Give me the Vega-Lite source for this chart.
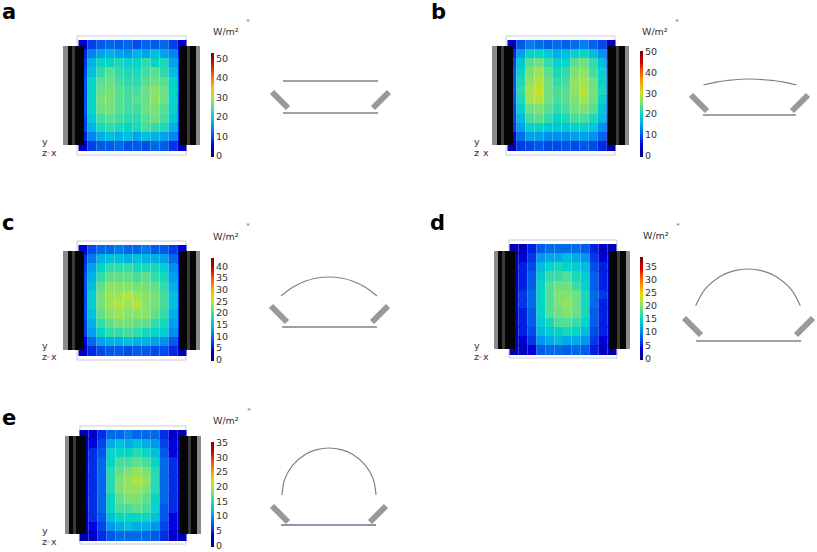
{"$schema":"https://vega.github.io/schema/vega-lite/v6.json","padding":0,"spacing":0,"background":"white","resolve":{"scale":{"color":"independent","fill":"independent"},"legend":{"color":"independent"}},
"config":{"view":{"stroke":null},"axis":{"disable":true},"concat":{"spacing":0},"range":{"heatmap":["#00007f","#0000e0","#0070e8","#10d0d0","#70e080","#e0e000","#ff7f00","#e00000","#7f0000"],"ramp":["#00007f","#0000e0","#0070e8","#10d0d0","#70e080","#e0e000","#ff7f00","#e00000","#7f0000"]},"text":{"font":"DejaVu Sans"},"legend":{"labelFont":"DejaVu Sans","labelFontSize":9.5,"labelColor":"#333","labelOffset":2,"gradientThickness":3,"gradientStrokeWidth":0,"labelOverlap":false,"tickCount":6}},
"datasets":{
"gear1":[{"p":"housing","x":63,"x2":68,"y":46,"y2":145},{"p":"core","x":68,"x2":84,"y":46,"y2":145},{"p":"rib","x":72,"x2":75,"y":46,"y2":145},{"p":"core","x":179,"x2":196,"y":46,"y2":145},{"p":"rib","x":187,"x2":190,"y":46,"y2":145},{"p":"housing","x":196,"x2":200,"y":46,"y2":145}],
"gear2":[{"p":"housing","x":65,"x2":69,"y":46,"y2":144},{"p":"core","x":69,"x2":86,"y":46,"y2":144},{"p":"rib","x":73,"x2":76,"y":46,"y2":144},{"p":"core","x":180,"x2":197,"y":46,"y2":144},{"p":"rib","x":188,"x2":191,"y":46,"y2":144},{"p":"housing","x":197,"x2":201,"y":46,"y2":144}],
"heatA":[{"x":83,"y":45,"v":5},{"x":92,"y":45,"v":9},{"x":101,"y":45,"v":11},{"x":110,"y":45,"v":12},{"x":119,"y":45,"v":11},{"x":128,"y":45,"v":12},{"x":137,"y":45,"v":10},{"x":146,"y":45,"v":12},{"x":155,"y":45,"v":11},{"x":164,"y":45,"v":12},{"x":173,"y":45,"v":9},{"x":182,"y":45,"v":5},
{"x":83,"y":54,"v":7},{"x":92,"y":54,"v":14},{"x":101,"y":54,"v":16},{"x":110,"y":54,"v":17},{"x":119,"y":54,"v":16},{"x":128,"y":54,"v":15},{"x":137,"y":54,"v":17},{"x":146,"y":54,"v":16},{"x":155,"y":54,"v":18},{"x":164,"y":54,"v":16},{"x":173,"y":54,"v":14},{"x":182,"y":54,"v":7},
{"x":83,"y":63,"v":8},{"x":92,"y":63,"v":17},{"x":101,"y":63,"v":21},{"x":110,"y":63,"v":21},{"x":119,"y":63,"v":22},{"x":128,"y":63,"v":20},{"x":137,"y":63,"v":21},{"x":146,"y":63,"v":23},{"x":155,"y":63,"v":21},{"x":164,"y":63,"v":22},{"x":173,"y":63,"v":16},{"x":182,"y":63,"v":9},
{"x":83,"y":72,"v":9},{"x":92,"y":72,"v":18},{"x":101,"y":72,"v":23},{"x":110,"y":72,"v":25},{"x":119,"y":72,"v":23},{"x":128,"y":72,"v":22},{"x":137,"y":72,"v":22},{"x":146,"y":72,"v":24},{"x":155,"y":72,"v":25},{"x":164,"y":72,"v":23},{"x":173,"y":72,"v":18},{"x":182,"y":72,"v":9},
{"x":83,"y":82,"v":10},{"x":92,"y":82,"v":20},{"x":101,"y":82,"v":25},{"x":110,"y":82,"v":26},{"x":119,"y":82,"v":24},{"x":128,"y":82,"v":23},{"x":137,"y":82,"v":23},{"x":146,"y":82,"v":25},{"x":155,"y":82,"v":26},{"x":164,"y":82,"v":25},{"x":173,"y":82,"v":20},{"x":182,"y":82,"v":10},
{"x":83,"y":91,"v":10},{"x":92,"y":91,"v":21},{"x":101,"y":91,"v":26},{"x":110,"y":91,"v":27},{"x":119,"y":91,"v":25},{"x":128,"y":91,"v":24},{"x":137,"y":91,"v":24},{"x":146,"y":91,"v":26},{"x":155,"y":91,"v":28},{"x":164,"y":91,"v":26},{"x":173,"y":91,"v":21},{"x":182,"y":91,"v":10},
{"x":83,"y":100,"v":10},{"x":92,"y":100,"v":21},{"x":101,"y":100,"v":27},{"x":110,"y":100,"v":27},{"x":119,"y":100,"v":25},{"x":128,"y":100,"v":24},{"x":137,"y":100,"v":25},{"x":146,"y":100,"v":26},{"x":155,"y":100,"v":28},{"x":164,"y":100,"v":26},{"x":173,"y":100,"v":20},{"x":182,"y":100,"v":9},
{"x":83,"y":109,"v":10},{"x":92,"y":109,"v":20},{"x":101,"y":109,"v":26},{"x":110,"y":109,"v":27},{"x":119,"y":109,"v":25},{"x":128,"y":109,"v":24},{"x":137,"y":109,"v":24},{"x":146,"y":109,"v":26},{"x":155,"y":109,"v":27},{"x":164,"y":109,"v":25},{"x":173,"y":109,"v":20},{"x":182,"y":109,"v":9},
{"x":83,"y":119,"v":9},{"x":92,"y":119,"v":19},{"x":101,"y":119,"v":24},{"x":110,"y":119,"v":25},{"x":119,"y":119,"v":24},{"x":128,"y":119,"v":23},{"x":137,"y":119,"v":23},{"x":146,"y":119,"v":25},{"x":155,"y":119,"v":26},{"x":164,"y":119,"v":24},{"x":173,"y":119,"v":19},{"x":182,"y":119,"v":9},
{"x":83,"y":128,"v":9},{"x":92,"y":128,"v":17},{"x":101,"y":128,"v":22},{"x":110,"y":128,"v":23},{"x":119,"y":128,"v":22},{"x":128,"y":128,"v":21},{"x":137,"y":128,"v":22},{"x":146,"y":128,"v":24},{"x":155,"y":128,"v":23},{"x":164,"y":128,"v":22},{"x":173,"y":128,"v":17},{"x":182,"y":128,"v":8},
{"x":83,"y":137,"v":7},{"x":92,"y":137,"v":14},{"x":101,"y":137,"v":17},{"x":110,"y":137,"v":18},{"x":119,"y":137,"v":17},{"x":128,"y":137,"v":18},{"x":137,"y":137,"v":16},{"x":146,"y":137,"v":18},{"x":155,"y":137,"v":17},{"x":164,"y":137,"v":16},{"x":173,"y":137,"v":14},{"x":182,"y":137,"v":7},
{"x":83,"y":146,"v":5},{"x":92,"y":146,"v":9},{"x":101,"y":146,"v":11},{"x":110,"y":146,"v":11},{"x":119,"y":146,"v":12},{"x":128,"y":146,"v":10},{"x":137,"y":146,"v":11},{"x":146,"y":146,"v":10},{"x":155,"y":146,"v":12},{"x":164,"y":146,"v":11},{"x":173,"y":146,"v":8},{"x":182,"y":146,"v":4}],
"heatB":[{"x":83,"y":45,"v":5},{"x":92,"y":45,"v":10},{"x":101,"y":45,"v":13},{"x":110,"y":45,"v":12},{"x":119,"y":45,"v":11},{"x":128,"y":45,"v":12},{"x":137,"y":45,"v":11},{"x":146,"y":45,"v":12},{"x":155,"y":45,"v":13},{"x":164,"y":45,"v":11},{"x":173,"y":45,"v":9},{"x":182,"y":45,"v":5},
{"x":83,"y":54,"v":7},{"x":92,"y":54,"v":15},{"x":101,"y":54,"v":19},{"x":110,"y":54,"v":20},{"x":119,"y":54,"v":18},{"x":128,"y":54,"v":16},{"x":137,"y":54,"v":17},{"x":146,"y":54,"v":19},{"x":155,"y":54,"v":20},{"x":164,"y":54,"v":17},{"x":173,"y":54,"v":14},{"x":182,"y":54,"v":7},
{"x":83,"y":63,"v":9},{"x":92,"y":63,"v":18},{"x":101,"y":63,"v":24},{"x":110,"y":63,"v":25},{"x":119,"y":63,"v":22},{"x":128,"y":63,"v":19},{"x":137,"y":63,"v":20},{"x":146,"y":63,"v":24},{"x":155,"y":63,"v":25},{"x":164,"y":63,"v":22},{"x":173,"y":63,"v":17},{"x":182,"y":63,"v":8},
{"x":83,"y":72,"v":10},{"x":92,"y":72,"v":20},{"x":101,"y":72,"v":26},{"x":110,"y":72,"v":28},{"x":119,"y":72,"v":24},{"x":128,"y":72,"v":21},{"x":137,"y":72,"v":22},{"x":146,"y":72,"v":26},{"x":155,"y":72,"v":27},{"x":164,"y":72,"v":23},{"x":173,"y":72,"v":19},{"x":182,"y":72,"v":9},
{"x":83,"y":82,"v":10},{"x":92,"y":82,"v":21},{"x":101,"y":82,"v":27},{"x":110,"y":82,"v":29},{"x":119,"y":82,"v":25},{"x":128,"y":82,"v":22},{"x":137,"y":82,"v":23},{"x":146,"y":82,"v":27},{"x":155,"y":82,"v":28},{"x":164,"y":82,"v":25},{"x":173,"y":82,"v":20},{"x":182,"y":82,"v":10},
{"x":83,"y":91,"v":10},{"x":92,"y":91,"v":22},{"x":101,"y":91,"v":28},{"x":110,"y":91,"v":30},{"x":119,"y":91,"v":25},{"x":128,"y":91,"v":23},{"x":137,"y":91,"v":24},{"x":146,"y":91,"v":27},{"x":155,"y":91,"v":29},{"x":164,"y":91,"v":25},{"x":173,"y":91,"v":21},{"x":182,"y":91,"v":10},
{"x":83,"y":100,"v":10},{"x":92,"y":100,"v":21},{"x":101,"y":100,"v":28},{"x":110,"y":100,"v":29},{"x":119,"y":100,"v":25},{"x":128,"y":100,"v":23},{"x":137,"y":100,"v":24},{"x":146,"y":100,"v":26},{"x":155,"y":100,"v":28},{"x":164,"y":100,"v":25},{"x":173,"y":100,"v":20},{"x":182,"y":100,"v":9},
{"x":83,"y":109,"v":9},{"x":92,"y":109,"v":19},{"x":101,"y":109,"v":25},{"x":110,"y":109,"v":26},{"x":119,"y":109,"v":24},{"x":128,"y":109,"v":22},{"x":137,"y":109,"v":23},{"x":146,"y":109,"v":25},{"x":155,"y":109,"v":26},{"x":164,"y":109,"v":24},{"x":173,"y":109,"v":18},{"x":182,"y":109,"v":9},
{"x":83,"y":119,"v":9},{"x":92,"y":119,"v":17},{"x":101,"y":119,"v":23},{"x":110,"y":119,"v":24},{"x":119,"y":119,"v":22},{"x":128,"y":119,"v":20},{"x":137,"y":119,"v":21},{"x":146,"y":119,"v":23},{"x":155,"y":119,"v":23},{"x":164,"y":119,"v":21},{"x":173,"y":119,"v":17},{"x":182,"y":119,"v":8},
{"x":83,"y":128,"v":8},{"x":92,"y":128,"v":15},{"x":101,"y":128,"v":19},{"x":110,"y":128,"v":20},{"x":119,"y":128,"v":18},{"x":128,"y":128,"v":18},{"x":137,"y":128,"v":18},{"x":146,"y":128,"v":19},{"x":155,"y":128,"v":19},{"x":164,"y":128,"v":18},{"x":173,"y":128,"v":14},{"x":182,"y":128,"v":7},
{"x":83,"y":137,"v":6},{"x":92,"y":137,"v":12},{"x":101,"y":137,"v":15},{"x":110,"y":137,"v":15},{"x":119,"y":137,"v":14},{"x":128,"y":137,"v":14},{"x":137,"y":137,"v":14},{"x":146,"y":137,"v":15},{"x":155,"y":137,"v":15},{"x":164,"y":137,"v":14},{"x":173,"y":137,"v":11},{"x":182,"y":137,"v":6},
{"x":83,"y":146,"v":4},{"x":92,"y":146,"v":8},{"x":101,"y":146,"v":9},{"x":110,"y":146,"v":10},{"x":119,"y":146,"v":9},{"x":128,"y":146,"v":9},{"x":137,"y":146,"v":10},{"x":146,"y":146,"v":9},{"x":155,"y":146,"v":10},{"x":164,"y":146,"v":9},{"x":173,"y":146,"v":7},{"x":182,"y":146,"v":4}],
"heatC":[{"x":83,"y":45,"v":4},{"x":92,"y":45,"v":8},{"x":101,"y":45,"v":10},{"x":110,"y":45,"v":10},{"x":119,"y":45,"v":11},{"x":128,"y":45,"v":10},{"x":137,"y":45,"v":10},{"x":146,"y":45,"v":11},{"x":155,"y":45,"v":9},{"x":164,"y":45,"v":9},{"x":173,"y":45,"v":7},{"x":182,"y":45,"v":4},
{"x":83,"y":54,"v":6},{"x":92,"y":54,"v":11},{"x":101,"y":54,"v":14},{"x":110,"y":54,"v":15},{"x":119,"y":54,"v":15},{"x":128,"y":54,"v":14},{"x":137,"y":54,"v":15},{"x":146,"y":54,"v":14},{"x":155,"y":54,"v":14},{"x":164,"y":54,"v":13},{"x":173,"y":54,"v":10},{"x":182,"y":54,"v":5},
{"x":83,"y":63,"v":7},{"x":92,"y":63,"v":13},{"x":101,"y":63,"v":17},{"x":110,"y":63,"v":19},{"x":119,"y":63,"v":19},{"x":128,"y":63,"v":19},{"x":137,"y":63,"v":18},{"x":146,"y":63,"v":18},{"x":155,"y":63,"v":18},{"x":164,"y":63,"v":16},{"x":173,"y":63,"v":12},{"x":182,"y":63,"v":6},
{"x":83,"y":72,"v":8},{"x":92,"y":72,"v":14},{"x":101,"y":72,"v":19},{"x":110,"y":72,"v":21},{"x":119,"y":72,"v":21},{"x":128,"y":72,"v":21},{"x":137,"y":72,"v":20},{"x":146,"y":72,"v":21},{"x":155,"y":72,"v":19},{"x":164,"y":72,"v":18},{"x":173,"y":72,"v":13},{"x":182,"y":72,"v":7},
{"x":83,"y":82,"v":8},{"x":92,"y":82,"v":15},{"x":101,"y":82,"v":21},{"x":110,"y":82,"v":23},{"x":119,"y":82,"v":23},{"x":128,"y":82,"v":23},{"x":137,"y":82,"v":22},{"x":146,"y":82,"v":22},{"x":155,"y":82,"v":21},{"x":164,"y":82,"v":19},{"x":173,"y":82,"v":14},{"x":182,"y":82,"v":7},
{"x":83,"y":91,"v":8},{"x":92,"y":91,"v":16},{"x":101,"y":91,"v":22},{"x":110,"y":91,"v":24},{"x":119,"y":91,"v":24},{"x":128,"y":91,"v":25},{"x":137,"y":91,"v":24},{"x":146,"y":91,"v":23},{"x":155,"y":91,"v":22},{"x":164,"y":91,"v":20},{"x":173,"y":91,"v":15},{"x":182,"y":91,"v":8},
{"x":83,"y":100,"v":8},{"x":92,"y":100,"v":16},{"x":101,"y":100,"v":22},{"x":110,"y":100,"v":24},{"x":119,"y":100,"v":25},{"x":128,"y":100,"v":24},{"x":137,"y":100,"v":25},{"x":146,"y":100,"v":23},{"x":155,"y":100,"v":22},{"x":164,"y":100,"v":20},{"x":173,"y":100,"v":15},{"x":182,"y":100,"v":8},
{"x":83,"y":109,"v":8},{"x":92,"y":109,"v":15},{"x":101,"y":109,"v":21},{"x":110,"y":109,"v":23},{"x":119,"y":109,"v":24},{"x":128,"y":109,"v":23},{"x":137,"y":109,"v":23},{"x":146,"y":109,"v":23},{"x":155,"y":109,"v":21},{"x":164,"y":109,"v":19},{"x":173,"y":109,"v":14},{"x":182,"y":109,"v":7},
{"x":83,"y":119,"v":7},{"x":92,"y":119,"v":14},{"x":101,"y":119,"v":19},{"x":110,"y":119,"v":21},{"x":119,"y":119,"v":22},{"x":128,"y":119,"v":22},{"x":137,"y":119,"v":21},{"x":146,"y":119,"v":21},{"x":155,"y":119,"v":19},{"x":164,"y":119,"v":18},{"x":173,"y":119,"v":13},{"x":182,"y":119,"v":7},
{"x":83,"y":128,"v":7},{"x":92,"y":128,"v":13},{"x":101,"y":128,"v":17},{"x":110,"y":128,"v":19},{"x":119,"y":128,"v":19},{"x":128,"y":128,"v":20},{"x":137,"y":128,"v":19},{"x":146,"y":128,"v":18},{"x":155,"y":128,"v":17},{"x":164,"y":128,"v":16},{"x":173,"y":128,"v":12},{"x":182,"y":128,"v":6},
{"x":83,"y":137,"v":5},{"x":92,"y":137,"v":10},{"x":101,"y":137,"v":13},{"x":110,"y":137,"v":14},{"x":119,"y":137,"v":14},{"x":128,"y":137,"v":15},{"x":137,"y":137,"v":14},{"x":146,"y":137,"v":14},{"x":155,"y":137,"v":13},{"x":164,"y":137,"v":12},{"x":173,"y":137,"v":9},{"x":182,"y":137,"v":5},
{"x":83,"y":146,"v":3},{"x":92,"y":146,"v":6},{"x":101,"y":146,"v":8},{"x":110,"y":146,"v":9},{"x":119,"y":146,"v":9},{"x":128,"y":146,"v":8},{"x":137,"y":146,"v":9},{"x":146,"y":146,"v":9},{"x":155,"y":146,"v":8},{"x":164,"y":146,"v":8},{"x":173,"y":146,"v":6},{"x":182,"y":146,"v":3}],
"heatD":[{"x":85,"y":44,"v":2},{"x":94,"y":44,"v":3},{"x":103,"y":44,"v":5},{"x":112,"y":44,"v":8},{"x":121,"y":44,"v":9},{"x":130,"y":44,"v":9},{"x":138,"y":44,"v":9},{"x":147,"y":44,"v":9},{"x":156,"y":44,"v":8},{"x":165,"y":44,"v":5},{"x":174,"y":44,"v":3},{"x":183,"y":44,"v":2},
{"x":85,"y":53,"v":2},{"x":94,"y":53,"v":4},{"x":103,"y":53,"v":6},{"x":112,"y":53,"v":11},{"x":121,"y":53,"v":12},{"x":130,"y":53,"v":12},{"x":138,"y":53,"v":13},{"x":147,"y":53,"v":12},{"x":156,"y":53,"v":11},{"x":165,"y":53,"v":6},{"x":174,"y":53,"v":4},{"x":183,"y":53,"v":2},
{"x":85,"y":62,"v":2},{"x":94,"y":62,"v":5},{"x":103,"y":62,"v":7},{"x":112,"y":62,"v":13},{"x":121,"y":62,"v":15},{"x":130,"y":62,"v":16},{"x":138,"y":62,"v":15},{"x":147,"y":62,"v":14},{"x":156,"y":62,"v":13},{"x":165,"y":62,"v":7},{"x":174,"y":62,"v":5},{"x":183,"y":62,"v":2},
{"x":85,"y":71,"v":3},{"x":94,"y":71,"v":5},{"x":103,"y":71,"v":8},{"x":112,"y":71,"v":14},{"x":121,"y":71,"v":17},{"x":130,"y":71,"v":17},{"x":138,"y":71,"v":18},{"x":147,"y":71,"v":16},{"x":156,"y":71,"v":14},{"x":165,"y":71,"v":8},{"x":174,"y":71,"v":5},{"x":183,"y":71,"v":3},
{"x":85,"y":81,"v":3},{"x":94,"y":81,"v":5},{"x":103,"y":81,"v":8},{"x":112,"y":81,"v":15},{"x":121,"y":81,"v":18},{"x":130,"y":81,"v":19},{"x":138,"y":81,"v":19},{"x":147,"y":81,"v":17},{"x":156,"y":81,"v":15},{"x":165,"y":81,"v":8},{"x":174,"y":81,"v":5},{"x":183,"y":81,"v":3},
{"x":85,"y":90,"v":3},{"x":94,"y":90,"v":6},{"x":103,"y":90,"v":9},{"x":112,"y":90,"v":15},{"x":121,"y":90,"v":18},{"x":130,"y":90,"v":20},{"x":138,"y":90,"v":20},{"x":147,"y":90,"v":19},{"x":156,"y":90,"v":16},{"x":165,"y":90,"v":9},{"x":174,"y":90,"v":6},{"x":183,"y":90,"v":3},
{"x":85,"y":99,"v":3},{"x":94,"y":99,"v":6},{"x":103,"y":99,"v":9},{"x":112,"y":99,"v":15},{"x":121,"y":99,"v":18},{"x":130,"y":99,"v":20},{"x":138,"y":99,"v":21},{"x":147,"y":99,"v":19},{"x":156,"y":99,"v":16},{"x":165,"y":99,"v":9},{"x":174,"y":99,"v":5},{"x":183,"y":99,"v":3},
{"x":85,"y":108,"v":3},{"x":94,"y":108,"v":5},{"x":103,"y":108,"v":8},{"x":112,"y":108,"v":15},{"x":121,"y":108,"v":18},{"x":130,"y":108,"v":19},{"x":138,"y":108,"v":20},{"x":147,"y":108,"v":19},{"x":156,"y":108,"v":16},{"x":165,"y":108,"v":8},{"x":174,"y":108,"v":5},{"x":183,"y":108,"v":3},
{"x":85,"y":118,"v":3},{"x":94,"y":118,"v":5},{"x":103,"y":118,"v":8},{"x":112,"y":118,"v":14},{"x":121,"y":118,"v":16},{"x":130,"y":118,"v":18},{"x":138,"y":118,"v":18},{"x":147,"y":118,"v":17},{"x":156,"y":118,"v":15},{"x":165,"y":118,"v":8},{"x":174,"y":118,"v":5},{"x":183,"y":118,"v":3},
{"x":85,"y":127,"v":2},{"x":94,"y":127,"v":5},{"x":103,"y":127,"v":7},{"x":112,"y":127,"v":13},{"x":121,"y":127,"v":14},{"x":130,"y":127,"v":15},{"x":138,"y":127,"v":16},{"x":147,"y":127,"v":15},{"x":156,"y":127,"v":13},{"x":165,"y":127,"v":7},{"x":174,"y":127,"v":5},{"x":183,"y":127,"v":2},
{"x":85,"y":136,"v":2},{"x":94,"y":136,"v":4},{"x":103,"y":136,"v":6},{"x":112,"y":136,"v":11},{"x":121,"y":136,"v":12},{"x":130,"y":136,"v":13},{"x":138,"y":136,"v":12},{"x":147,"y":136,"v":12},{"x":156,"y":136,"v":11},{"x":165,"y":136,"v":6},{"x":174,"y":136,"v":4},{"x":183,"y":136,"v":2},
{"x":85,"y":145,"v":2},{"x":94,"y":145,"v":3},{"x":103,"y":145,"v":4},{"x":112,"y":145,"v":8},{"x":121,"y":145,"v":9},{"x":130,"y":145,"v":9},{"x":138,"y":145,"v":8},{"x":147,"y":145,"v":9},{"x":156,"y":145,"v":8},{"x":165,"y":145,"v":5},{"x":174,"y":145,"v":3},{"x":183,"y":145,"v":2}],
"heatE":[{"x":84,"y":45,"v":2},{"x":93,"y":45,"v":3},{"x":102,"y":45,"v":5},{"x":111,"y":45,"v":8},{"x":120,"y":45,"v":8},{"x":129,"y":45,"v":9},{"x":137,"y":45,"v":8},{"x":146,"y":45,"v":8},{"x":155,"y":45,"v":8},{"x":164,"y":45,"v":5},{"x":173,"y":45,"v":3},{"x":182,"y":45,"v":2},
{"x":84,"y":54,"v":2},{"x":93,"y":54,"v":4},{"x":102,"y":54,"v":6},{"x":111,"y":54,"v":11},{"x":120,"y":54,"v":12},{"x":129,"y":54,"v":11},{"x":137,"y":54,"v":12},{"x":146,"y":54,"v":11},{"x":155,"y":54,"v":10},{"x":164,"y":54,"v":6},{"x":173,"y":54,"v":4},{"x":182,"y":54,"v":2},
{"x":84,"y":63,"v":2},{"x":93,"y":63,"v":5},{"x":102,"y":63,"v":7},{"x":111,"y":63,"v":13},{"x":120,"y":63,"v":14},{"x":129,"y":63,"v":14},{"x":137,"y":63,"v":15},{"x":146,"y":63,"v":14},{"x":155,"y":63,"v":12},{"x":164,"y":63,"v":7},{"x":173,"y":63,"v":4},{"x":182,"y":63,"v":2},
{"x":84,"y":72,"v":2},{"x":93,"y":72,"v":5},{"x":102,"y":72,"v":8},{"x":111,"y":72,"v":14},{"x":120,"y":72,"v":16},{"x":129,"y":72,"v":16},{"x":137,"y":72,"v":17},{"x":146,"y":72,"v":16},{"x":155,"y":72,"v":14},{"x":164,"y":72,"v":8},{"x":173,"y":72,"v":5},{"x":182,"y":72,"v":2},
{"x":84,"y":82,"v":3},{"x":93,"y":82,"v":5},{"x":102,"y":82,"v":8},{"x":111,"y":82,"v":15},{"x":120,"y":82,"v":17},{"x":129,"y":82,"v":18},{"x":137,"y":82,"v":19},{"x":146,"y":82,"v":18},{"x":155,"y":82,"v":15},{"x":164,"y":82,"v":8},{"x":173,"y":82,"v":5},{"x":182,"y":82,"v":2},
{"x":84,"y":91,"v":3},{"x":93,"y":91,"v":5},{"x":102,"y":91,"v":8},{"x":111,"y":91,"v":15},{"x":120,"y":91,"v":18},{"x":129,"y":91,"v":19},{"x":137,"y":91,"v":20},{"x":146,"y":91,"v":19},{"x":155,"y":91,"v":15},{"x":164,"y":91,"v":8},{"x":173,"y":91,"v":5},{"x":182,"y":91,"v":3},
{"x":84,"y":100,"v":3},{"x":93,"y":100,"v":5},{"x":102,"y":100,"v":8},{"x":111,"y":100,"v":15},{"x":120,"y":100,"v":18},{"x":129,"y":100,"v":19},{"x":137,"y":100,"v":19},{"x":146,"y":100,"v":18},{"x":155,"y":100,"v":15},{"x":164,"y":100,"v":8},{"x":173,"y":100,"v":5},{"x":182,"y":100,"v":3},
{"x":84,"y":109,"v":3},{"x":93,"y":109,"v":5},{"x":102,"y":109,"v":8},{"x":111,"y":109,"v":14},{"x":120,"y":109,"v":17},{"x":129,"y":109,"v":18},{"x":137,"y":109,"v":18},{"x":146,"y":109,"v":17},{"x":155,"y":109,"v":14},{"x":164,"y":109,"v":8},{"x":173,"y":109,"v":5},{"x":182,"y":109,"v":3},
{"x":84,"y":119,"v":2},{"x":93,"y":119,"v":5},{"x":102,"y":119,"v":8},{"x":111,"y":119,"v":14},{"x":120,"y":119,"v":16},{"x":129,"y":119,"v":16},{"x":137,"y":119,"v":17},{"x":146,"y":119,"v":16},{"x":155,"y":119,"v":13},{"x":164,"y":119,"v":7},{"x":173,"y":119,"v":5},{"x":182,"y":119,"v":2},
{"x":84,"y":128,"v":2},{"x":93,"y":128,"v":5},{"x":102,"y":128,"v":7},{"x":111,"y":128,"v":12},{"x":120,"y":128,"v":14},{"x":129,"y":128,"v":14},{"x":137,"y":128,"v":14},{"x":146,"y":128,"v":14},{"x":155,"y":128,"v":12},{"x":164,"y":128,"v":7},{"x":173,"y":128,"v":4},{"x":182,"y":128,"v":2},
{"x":84,"y":137,"v":2},{"x":93,"y":137,"v":4},{"x":102,"y":137,"v":6},{"x":111,"y":137,"v":10},{"x":120,"y":137,"v":11},{"x":129,"y":137,"v":12},{"x":137,"y":137,"v":11},{"x":146,"y":137,"v":11},{"x":155,"y":137,"v":10},{"x":164,"y":137,"v":6},{"x":173,"y":137,"v":4},{"x":182,"y":137,"v":2},
{"x":84,"y":146,"v":2},{"x":93,"y":146,"v":3},{"x":102,"y":146,"v":5},{"x":111,"y":146,"v":7},{"x":120,"y":146,"v":8},{"x":129,"y":146,"v":8},{"x":137,"y":146,"v":8},{"x":146,"y":146,"v":8},{"x":155,"y":146,"v":7},{"x":164,"y":146,"v":5},{"x":173,"y":146,"v":3},{"x":182,"y":146,"v":2}]
},
"vconcat":[
{"resolve":{"scale":{"color":"independent","fill":"independent"},"legend":{"color":"independent"}},"hconcat":[
{"width":429,"height":205,"encoding":{"x":{"field":"x","type":"quantitative","scale":{"domain":[0,429]}},"y":{"field":"y","type":"quantitative","scale":{"domain":[205,0]}}},"layer":[
{"data":{"values":[{"x":77,"x2":186,"y":36,"y2":155}]},"mark":{"type":"rect","fill":"white","stroke":"#c9c9dc"},"encoding":{"x2":{"field":"x2"},"y2":{"field":"y2"}}},
{"data":{"name":"heatA"},"mark":{"type":"rect","width":9,"height":10},"encoding":{"color":{"field":"v","type":"quantitative","scale":{"domain":[-0.5,53]},"legend":{"orient":"none","legendX":211,"legendY":53,"gradientLength":104,"title":null,"values":[0,10,20,30,40,50]}}}},
{"data":{"name":"gear1"},"mark":"rect","encoding":{"x2":{"field":"x2"},"y2":{"field":"y2"},"fill":{"field":"p","type":"nominal","scale":{"domain":["housing","core","rib"],"range":["#8a8a8a","#050505","#3a3a3a"]},"legend":null}}},
{"data":{"values":[{"x":283,"x2":378,"y":81,"y2":81},{"x":283,"x2":378,"y":113,"y2":113}]},"mark":{"type":"rule","color":"#808080","strokeWidth":1.3},"encoding":{"x2":{"field":"x2"},"y2":{"field":"y2"}}},
{"data":{"values":[{"x":272,"x2":288,"y":92,"y2":108},{"x":389,"x2":373,"y":92,"y2":108}]},"mark":{"type":"rule","color":"#999999","strokeWidth":6},"encoding":{"x2":{"field":"x2"},"y2":{"field":"y2"}}},
{"data":{"values":[{"x":47,"x2":50,"y":153,"y2":153}]},"mark":{"type":"rule","color":"#e8a060"},"encoding":{"x2":{"field":"x2"},"y2":{"field":"y2"}}},
{"data":{"values":[{"x":2,"y":19,"t":"a"}]},"mark":{"type":"text","fontSize":21,"fontWeight":"bold","align":"left","baseline":"alphabetic","color":"black"},"encoding":{"text":{"field":"t"}}},
{"data":{"values":[{"x":213,"y":32,"t":"W/m²"},{"x":42,"y":142,"t":"y"},{"x":42,"y":153,"t":"z"},{"x":51,"y":153,"t":"x"}]},"mark":{"type":"text","fontSize":9.5,"align":"left","baseline":"middle","color":"#333"},"encoding":{"text":{"field":"t"}}},
{"data":{"values":[{"x":248,"y":22,"t":"*"}]},"mark":{"type":"text","fontSize":7,"color":"#667788"},"encoding":{"text":{"field":"t"}}}
]},
{"width":388,"height":205,"encoding":{"x":{"field":"x","type":"quantitative","scale":{"domain":[0,388]}},"y":{"field":"y","type":"quantitative","scale":{"domain":[205,0]}}},"layer":[
{"data":{"values":[{"x":77,"x2":186,"y":36,"y2":155}]},"mark":{"type":"rect","fill":"white","stroke":"#c9c9dc"},"encoding":{"x2":{"field":"x2"},"y2":{"field":"y2"}}},
{"data":{"name":"heatB"},"mark":{"type":"rect","width":9,"height":10},"encoding":{"color":{"field":"v","type":"quantitative","scale":{"domain":[-0.5,50.5]},"legend":{"orient":"none","legendX":211,"legendY":51,"gradientLength":106,"title":null,"values":[0,10,20,30,40,50]}}}},
{"data":{"name":"gear1"},"mark":"rect","encoding":{"x2":{"field":"x2"},"y2":{"field":"y2"},"fill":{"field":"p","type":"nominal","scale":{"domain":["housing","core","rib"],"range":["#8a8a8a","#050505","#3a3a3a"]},"legend":null}}},
{"data":{"values":[{"x":274,"x2":367,"y":115,"y2":115}]},"mark":{"type":"rule","color":"#808080","strokeWidth":1.3},"encoding":{"x2":{"field":"x2"},"y2":{"field":"y2"}}},
{"data":{"values":[{"x":262,"x2":278,"y":95,"y2":111},{"x":379,"x2":363,"y":95,"y2":111}]},"mark":{"type":"rule","color":"#999999","strokeWidth":6},"encoding":{"x2":{"field":"x2"},"y2":{"field":"y2"}}},
{"data":{"values":[{"x":274.5,"y":85},{"x":286,"y":82.3},{"x":298,"y":80.5},{"x":321,"y":79},{"x":344,"y":80.5},{"x":356,"y":82.3},{"x":367.5,"y":85}]},"mark":{"type":"line","color":"#808080","strokeWidth":1.2,"interpolate":"cardinal"}},
{"data":{"values":[{"x":47,"x2":50,"y":153,"y2":153}]},"mark":{"type":"rule","color":"#e8a060"},"encoding":{"x2":{"field":"x2"},"y2":{"field":"y2"}}},
{"data":{"values":[{"x":2,"y":19,"t":"b"}]},"mark":{"type":"text","fontSize":21,"fontWeight":"bold","align":"left","baseline":"alphabetic","color":"black"},"encoding":{"text":{"field":"t"}}},
{"data":{"values":[{"x":213,"y":32,"t":"W/m²"},{"x":45,"y":142,"t":"y"},{"x":45,"y":153,"t":"z"},{"x":54,"y":153,"t":"x"}]},"mark":{"type":"text","fontSize":9.5,"align":"left","baseline":"middle","color":"#333"},"encoding":{"text":{"field":"t"}}},
{"data":{"values":[{"x":248,"y":22,"t":"*"}]},"mark":{"type":"text","fontSize":7,"color":"#667788"},"encoding":{"text":{"field":"t"}}}
]}
]},
{"resolve":{"scale":{"color":"independent","fill":"independent"},"legend":{"color":"independent"}},"hconcat":[
{"width":429,"height":185,"encoding":{"x":{"field":"x","type":"quantitative","scale":{"domain":[0,429]}},"y":{"field":"y","type":"quantitative","scale":{"domain":[185,0]}}},"layer":[
{"data":{"values":[{"x":77,"x2":186,"y":36,"y2":155}]},"mark":{"type":"rect","fill":"white","stroke":"#c9c9dc"},"encoding":{"x2":{"field":"x2"},"y2":{"field":"y2"}}},
{"data":{"name":"heatC"},"mark":{"type":"rect","width":9,"height":10},"encoding":{"color":{"field":"v","type":"quantitative","scale":{"domain":[-0.5,43.8]},"legend":{"orient":"none","legendX":211,"legendY":53,"gradientLength":103,"title":null,"values":[0,5,10,15,20,25,30,35,40]}}}},
{"data":{"name":"gear1"},"mark":"rect","encoding":{"x2":{"field":"x2"},"y2":{"field":"y2"},"fill":{"field":"p","type":"nominal","scale":{"domain":["housing","core","rib"],"range":["#8a8a8a","#050505","#3a3a3a"]},"legend":null}}},
{"data":{"values":[{"x":282,"x2":377,"y":122,"y2":122}]},"mark":{"type":"rule","color":"#808080","strokeWidth":1.3},"encoding":{"x2":{"field":"x2"},"y2":{"field":"y2"}}},
{"data":{"values":[{"x":271,"x2":287,"y":101,"y2":117},{"x":388,"x2":372,"y":101,"y2":117}]},"mark":{"type":"rule","color":"#999999","strokeWidth":6},"encoding":{"x2":{"field":"x2"},"y2":{"field":"y2"}}},
{"data":{"values":[{"x":281,"y":91},{"x":293,"y":82},{"x":305,"y":76.2},{"x":317,"y":73},{"x":329,"y":72},{"x":341,"y":73},{"x":353,"y":76.2},{"x":365,"y":82},{"x":377,"y":91}]},"mark":{"type":"line","color":"#808080","strokeWidth":1.2,"interpolate":"cardinal"}},
{"data":{"values":[{"x":47,"x2":50,"y":152,"y2":152}]},"mark":{"type":"rule","color":"#e8a060"},"encoding":{"x2":{"field":"x2"},"y2":{"field":"y2"}}},
{"data":{"values":[{"x":2,"y":25,"t":"c"}]},"mark":{"type":"text","fontSize":21,"fontWeight":"bold","align":"left","baseline":"alphabetic","color":"black"},"encoding":{"text":{"field":"t"}}},
{"data":{"values":[{"x":213,"y":32,"t":"W/m²"},{"x":42,"y":141,"t":"y"},{"x":42,"y":152,"t":"z"},{"x":51,"y":152,"t":"x"}]},"mark":{"type":"text","fontSize":9.5,"align":"left","baseline":"middle","color":"#333"},"encoding":{"text":{"field":"t"}}},
{"data":{"values":[{"x":248,"y":21,"t":"*"}]},"mark":{"type":"text","fontSize":7,"color":"#667788"},"encoding":{"text":{"field":"t"}}}
]},
{"width":388,"height":185,"encoding":{"x":{"field":"x","type":"quantitative","scale":{"domain":[0,388]}},"y":{"field":"y","type":"quantitative","scale":{"domain":[185,0]}}},"layer":[
{"data":{"values":[{"x":80,"x2":188,"y":35,"y2":153}]},"mark":{"type":"rect","fill":"white","stroke":"#c9c9dc"},"encoding":{"x2":{"field":"x2"},"y2":{"field":"y2"}}},
{"data":{"name":"heatD"},"mark":{"type":"rect","width":9,"height":10},"encoding":{"color":{"field":"v","type":"quantitative","scale":{"domain":[-0.5,38.8]},"legend":{"orient":"none","legendX":211,"legendY":52,"gradientLength":103,"title":null,"values":[0,5,10,15,20,25,30,35]}}}},
{"data":{"name":"gear2"},"mark":"rect","encoding":{"x2":{"field":"x2"},"y2":{"field":"y2"},"fill":{"field":"p","type":"nominal","scale":{"domain":["housing","core","rib"],"range":["#8a8a8a","#050505","#3a3a3a"]},"legend":null}}},
{"data":{"values":[{"x":267,"x2":372,"y":136,"y2":136}]},"mark":{"type":"rule","color":"#808080","strokeWidth":1.3},"encoding":{"x2":{"field":"x2"},"y2":{"field":"y2"}}},
{"data":{"values":[{"x":255,"x2":272,"y":113,"y2":130},{"x":384,"x2":367,"y":113,"y2":130}]},"mark":{"type":"rule","color":"#999999","strokeWidth":6},"encoding":{"x2":{"field":"x2"},"y2":{"field":"y2"}}},
{"data":{"values":[{"x":266.7,"y":100.7},{"x":276.3,"y":83.9},{"x":291.1,"y":71.5},{"x":304.6,"y":65.9},{"x":319,"y":64},{"x":333.4,"y":65.9},{"x":346.9,"y":71.5},{"x":361.7,"y":83.9},{"x":371.3,"y":100.7}]},"mark":{"type":"line","color":"#808080","strokeWidth":1.2,"interpolate":"cardinal"}},
{"data":{"values":[{"x":50,"x2":53,"y":152,"y2":152}]},"mark":{"type":"rule","color":"#e8a060"},"encoding":{"x2":{"field":"x2"},"y2":{"field":"y2"}}},
{"data":{"values":[{"x":1,"y":25,"t":"d"}]},"mark":{"type":"text","fontSize":21,"fontWeight":"bold","align":"left","baseline":"alphabetic","color":"black"},"encoding":{"text":{"field":"t"}}},
{"data":{"values":[{"x":214,"y":31,"t":"W/m²"},{"x":45,"y":141,"t":"y"},{"x":45,"y":152,"t":"z"},{"x":54,"y":152,"t":"x"}]},"mark":{"type":"text","fontSize":9.5,"align":"left","baseline":"middle","color":"#333"},"encoding":{"text":{"field":"t"}}},
{"data":{"values":[{"x":249,"y":21,"t":"*"}]},"mark":{"type":"text","fontSize":7,"color":"#667788"},"encoding":{"text":{"field":"t"}}}
]}
]},
{"width":429,"height":162,"encoding":{"x":{"field":"x","type":"quantitative","scale":{"domain":[0,429]}},"y":{"field":"y","type":"quantitative","scale":{"domain":[162,0]}}},"layer":[
{"data":{"values":[{"x":80,"x2":186,"y":36,"y2":154}]},"mark":{"type":"rect","fill":"white","stroke":"#c9c9dc"},"encoding":{"x2":{"field":"x2"},"y2":{"field":"y2"}}},
{"data":{"name":"heatE"},"mark":{"type":"rect","width":9,"height":10},"encoding":{"color":{"field":"v","type":"quantitative","scale":{"domain":[-0.5,35.3]},"legend":{"orient":"none","legendX":211,"legendY":52,"gradientLength":105,"title":null,"values":[0,5,10,15,20,25,30,35]}}}},
{"data":{"name":"gear2"},"mark":"rect","encoding":{"x2":{"field":"x2"},"y2":{"field":"y2"},"fill":{"field":"p","type":"nominal","scale":{"domain":["housing","core","rib"],"range":["#8a8a8a","#050505","#3a3a3a"]},"legend":null}}},
{"data":{"values":[{"x":281,"x2":376,"y":135,"y2":135}]},"mark":{"type":"rule","color":"#70708c","strokeWidth":1.3},"encoding":{"x2":{"field":"x2"},"y2":{"field":"y2"}}},
{"data":{"values":[{"x":272,"x2":288,"y":116,"y2":132},{"x":386,"x2":370,"y":116,"y2":132}]},"mark":{"type":"rule","color":"#999999","strokeWidth":6},"encoding":{"x2":{"field":"x2"},"y2":{"field":"y2"}}},
{"data":{"values":[{"x":282,"y":105},{"x":284.8,"y":88.9},{"x":293,"y":74.8},{"x":305.5,"y":64.3},{"x":316.8,"y":59.6},{"x":329,"y":58},{"x":341.2,"y":59.6},{"x":352.5,"y":64.3},{"x":365,"y":74.8},{"x":373.2,"y":88.9},{"x":376,"y":105}]},"mark":{"type":"line","color":"#808080","strokeWidth":1.2,"interpolate":"cardinal"}},
{"data":{"values":[{"x":47,"x2":50,"y":152,"y2":152}]},"mark":{"type":"rule","color":"#e8a060"},"encoding":{"x2":{"field":"x2"},"y2":{"field":"y2"}}},
{"data":{"values":[{"x":2,"y":35,"t":"e"}]},"mark":{"type":"text","fontSize":21,"fontWeight":"bold","align":"left","baseline":"alphabetic","color":"black"},"encoding":{"text":{"field":"t"}}},
{"data":{"values":[{"x":213,"y":31,"t":"W/m²"},{"x":42,"y":141,"t":"y"},{"x":42,"y":152,"t":"z"},{"x":51,"y":152,"t":"x"}]},"mark":{"type":"text","fontSize":9.5,"align":"left","baseline":"middle","color":"#333"},"encoding":{"text":{"field":"t"}}},
{"data":{"values":[{"x":249,"y":21,"t":"*"}]},"mark":{"type":"text","fontSize":7,"color":"#667788"},"encoding":{"text":{"field":"t"}}}
]}
]}
